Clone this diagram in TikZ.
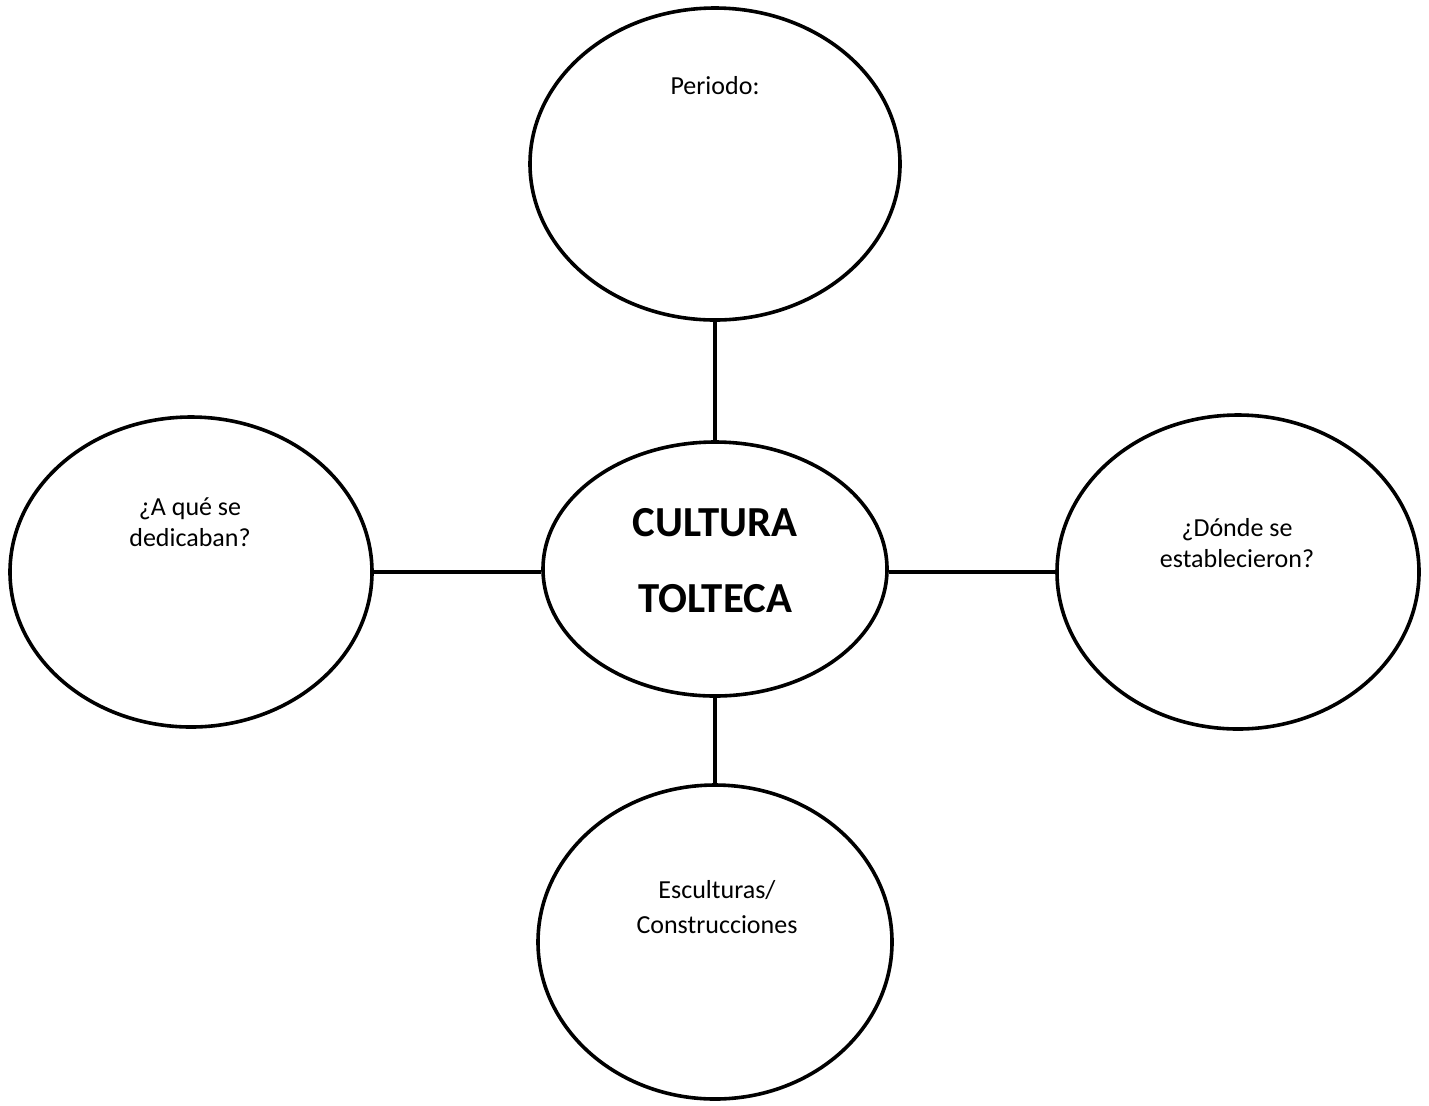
\documentclass[tikz,border=0pt]{standalone}
\usepackage{fontspec}
\setmainfont{Carlito}
\usetikzlibrary{shapes.geometric}
\begin{document}
\begin{tikzpicture}[x=0.5pt,y=-0.5pt,
  bubble/.style={ellipse,draw,line width=1.8pt,inner sep=0pt},
  link/.style={line width=2.2pt},
  lbl/.style={align=center,font=\fontsize{13}{15.5}\selectfont,inner sep=0pt},
  big/.style={align=center,font=\fontsize{21.4}{38}\selectfont\bfseries,inner sep=0pt}]
\useasboundingbox (0,0) rectangle (1429,1105);
\node[bubble,minimum width=185pt,minimum height=156pt] (top) at (715,164) {};
\node[bubble,minimum width=172pt,minimum height=127pt] (mid) at (715,569) {};
\node[bubble,minimum width=181pt,minimum height=155pt] (left) at (191,572) {};
\node[bubble,minimum width=181pt,minimum height=157pt] (right) at (1238,572) {};
\node[bubble,minimum width=177pt,minimum height=157pt] (bot) at (715,942) {};
\draw[link] (top) -- (mid);
\draw[link] (left.east |- 0,572) -- (mid.west |- 0,572);
\draw[link] (mid.east |- 0,572) -- (right.west |- 0,572);
\draw[link] (mid) -- (bot);
\node[lbl] (tlbl) at (715,86) {Periodo:};
\node[lbl] (llbl) at (190,522) {¿A qué se\\dedicaban?};
\node[big] (mlbl) at (715,561) {CULTURA\\TOLTECA};
\node[lbl] (rlbl) at (1237,543) {¿Dónde se\\establecieron?};
\node[lbl,font=\fontsize{13}{17.5}\selectfont] (blbl) at (717,907) {Esculturas/\\Construcciones};
\end{tikzpicture}
\end{document}
